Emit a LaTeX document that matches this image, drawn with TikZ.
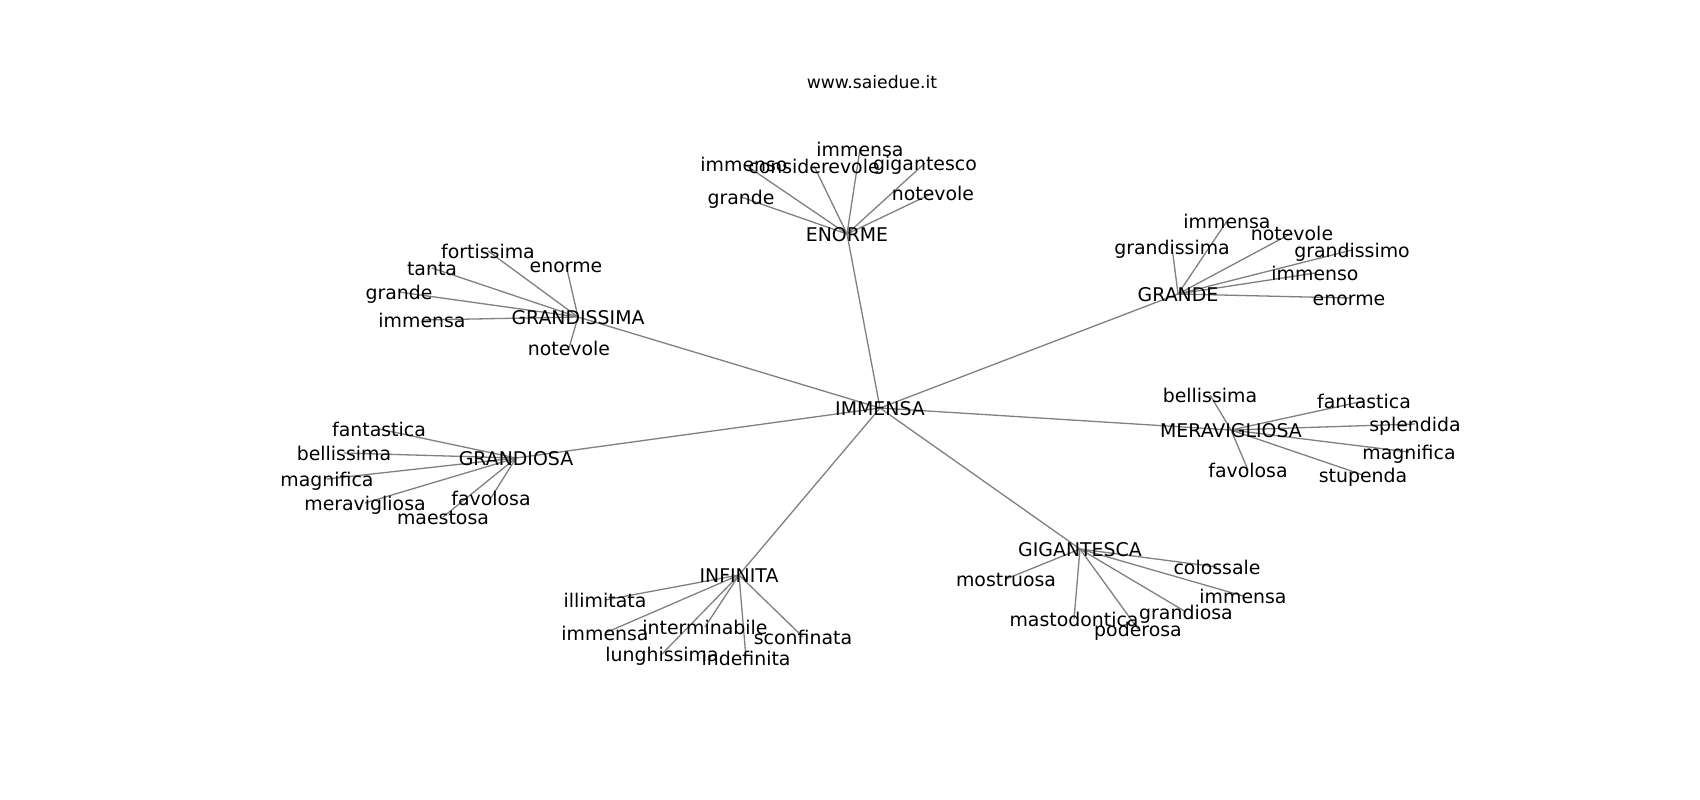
\documentclass[tikz,border=0pt]{standalone}
\usepackage{fontspec}
\setmainfont{DejaVu Sans}
\usetikzlibrary{backgrounds}
\tikzset{
  lbl/.style={font=\fontsize{18.9}{22}\selectfont, inner sep=0pt, text height=17pt, text depth=2.1pt, anchor=center},
  ttl/.style={font=\fontsize{17.2}{20}\selectfont, inner sep=0pt, text height=15.5pt, text depth=1.9pt, anchor=center},
  edge/.style={draw=gray, line width=1.3pt}
}
\begin{document}
\begin{tikzpicture}[x=1pt,y=-1pt]
\useasboundingbox (0,0) rectangle (1700,800);
\node[ttl] (title) at (872,82) {www.saiedue.it};
% hubs
\node[lbl] (root) at (880,408) {IMMENSA};
\node[lbl] (en) at (847,234) {ENORME};
\node[lbl] (gs) at (578,317) {GRANDISSIMA};
\node[lbl] (gr) at (1178,294) {GRANDE};
\node[lbl] (me) at (1231,430) {MERAVIGLIOSA};
\node[lbl] (gd) at (516,458) {GRANDIOSA};
\node[lbl] (inf) at (739,575) {INFINITA};
\node[lbl] (gi) at (1080,549) {GIGANTESCA};
% ENORME leaves
\node[lbl] (en1) at (744,164) {immenso};
\node[lbl] (en2) at (814,166) {considerevole};
\node[lbl] (en3) at (860,149) {immensa};
\node[lbl] (en4) at (925,163) {gigantesco};
\node[lbl] (en5) at (933,193) {notevole};
\node[lbl] (en6) at (741,197) {grande};
% GRANDISSIMA leaves
\node[lbl] (gs1) at (488,251) {fortissima};
\node[lbl] (gs2) at (432,268) {tanta};
\node[lbl] (gs3) at (399,292) {grande};
\node[lbl] (gs4) at (422,320) {immensa};
\node[lbl] (gs5) at (566,265) {enorme};
\node[lbl] (gs6) at (569,348) {notevole};
% GRANDE leaves
\node[lbl] (gr1) at (1227,221) {immensa};
\node[lbl] (gr2) at (1172,247) {grandissima};
\node[lbl] (gr3) at (1292,233) {notevole};
\node[lbl] (gr4) at (1352,250) {grandissimo};
\node[lbl] (gr5) at (1315,273) {immenso};
\node[lbl] (gr6) at (1349,298) {enorme};
% MERAVIGLIOSA leaves
\node[lbl] (me1) at (1210,395) {bellissima};
\node[lbl] (me2) at (1364,401) {fantastica};
\node[lbl] (me3) at (1415,424) {splendida};
\node[lbl] (me4) at (1409,452) {magnifica};
\node[lbl] (me5) at (1363,475) {stupenda};
\node[lbl] (me6) at (1248,470) {favolosa};
% GRANDIOSA leaves
\node[lbl] (gd1) at (379,429) {fantastica};
\node[lbl] (gd2) at (344,453) {bellissima};
\node[lbl] (gd3) at (327,479) {magnifica};
\node[lbl] (gd4) at (365,503) {meravigliosa};
\node[lbl] (gd5) at (491,498) {favolosa};
\node[lbl] (gd6) at (443,517) {maestosa};
% INFINITA leaves
\node[lbl] (inf1) at (605,600) {illimitata};
\node[lbl] (inf2) at (605,633) {immensa};
\node[lbl] (inf3) at (705,627) {interminabile};
\node[lbl] (inf4) at (662,654) {lunghissima};
\node[lbl] (inf5) at (746,658) {indefinita};
\node[lbl] (inf6) at (803,637) {sconfinata};
% GIGANTESCA leaves
\node[lbl] (gi1) at (1006,579) {mostruosa};
\node[lbl] (gi2) at (1217,567) {colossale};
\node[lbl] (gi3) at (1243,596) {immensa};
\node[lbl] (gi4) at (1074,619) {mastodontica};
\node[lbl] (gi5) at (1138,629) {poderosa};
\node[lbl] (gi6) at (1186,612) {grandiosa};
\begin{scope}[on background layer]
\fill[white] (0,0) rectangle (1700,800);
\foreach \h in {en,gs,gr,me,gd,inf,gi}{
  \draw[edge] (root.center) -- (\h.center);
  \foreach \k in {1,...,6}{
    \draw[edge] (\h.center) -- (\h\k.center);
  }
}
\end{scope}
\end{tikzpicture}
\end{document}
